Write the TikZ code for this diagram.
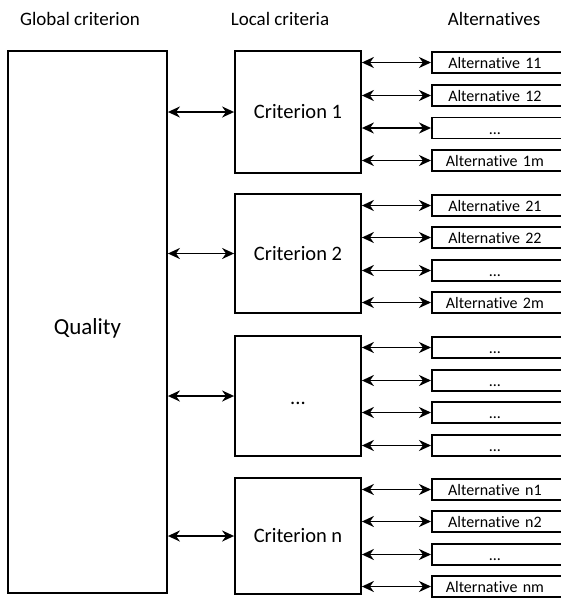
\documentclass[tikz,border=0pt]{standalone}
\usepackage{fontspec}
\setmainfont{Carlito}[Ligatures=CommonOff]
\usetikzlibrary{arrows.meta,positioning}
\definecolor{ink}{HTML}{000000}

\newcommand{\altlabel}[1]{\makebox[126pt]{\smash{\raisebox{-6pt}{#1}}}}

\begin{document}
\begin{tikzpicture}[x=1pt,y=-1pt,>=Stealth,
  bigbox/.style={draw=ink,line width=1.8pt,inner sep=0pt,font=\fontsize{20.5}{24}\selectfont},
  altbox/.style={draw=ink,line width=1.8pt,anchor=west,inner sep=0pt,minimum height=21pt,
    text width=150pt,align=left,font=\fontsize{16}{19}\selectfont},
  biarrow/.style={{Stealth[length=12pt,width=11pt]}-{Stealth[length=12pt,width=11pt]},line width=1.8pt,ink},
  head/.style={font=\fontsize{19}{22}\selectfont,text=ink}]
\useasboundingbox (0,0) rectangle (561,600);
% column heads
\node[head] (hglobal) at (80,19) {Global criterion};
\node[head] (hlocal) at (280,19) {Local criteria};
\node[head] (halt) at (494,19) {Alternatives};
% global criterion
\node[bigbox,minimum width=159pt,minimum height=542pt,font=\fontsize{23}{27}\selectfont] (quality) at (87.5,322) {\smash{\raisebox{-12pt}{Quality}}};
% local criteria
\node[bigbox,minimum width=126pt,minimum height=122pt] (c1) at (298,112) {Criterion 1};
\node[bigbox,minimum width=126pt,minimum height=119pt] (c2) at (298,253.5) {Criterion 2};
\node[bigbox,minimum width=126pt,minimum height=120pt] (c3) at (298,396) {\smash{\raisebox{-8pt}{...}}};
\node[bigbox,minimum width=126pt,minimum height=116pt] (cn) at (298,536) {Criterion n};
\draw[biarrow] (c1.west) -- (c1.west -| quality.east);
\draw[biarrow] (c2.west) -- (c2.west -| quality.east);
\draw[biarrow] (c3.west) -- (c3.west -| quality.east);
\draw[biarrow] (cn.west) -- (cn.west -| quality.east);
% alternatives of criterion 1
\node[altbox] (a11) at (431,62.5) {\altlabel{Alternative 11}};
\node[altbox] (a12) at (431,95.5) {\altlabel{Alternative 12}};
\node[altbox] (a13) at (431,128) {\altlabel{...}};
\node[altbox] (a1m) at (431,160.5) {\altlabel{Alternative 1m}};
% alternatives of criterion 2
\node[altbox] (a21) at (431,205.5) {\altlabel{Alternative 21}};
\node[altbox] (a22) at (431,237.5) {\altlabel{Alternative 22}};
\node[altbox] (a23) at (431,270.5) {\altlabel{...}};
\node[altbox] (a2m) at (431,302.5) {\altlabel{Alternative 2m}};
% alternatives of the middle criterion
\node[altbox] (a31) at (431,347.5) {\altlabel{...}};
\node[altbox] (a32) at (431,380.5) {\altlabel{...}};
\node[altbox] (a33) at (431,412.5) {\altlabel{...}};
\node[altbox] (a3m) at (431,445.5) {\altlabel{...}};
% alternatives of criterion n
\node[altbox] (an1) at (431,489.5) {\altlabel{Alternative n1}};
\node[altbox] (an2) at (431,521.5) {\altlabel{Alternative n2}};
\node[altbox] (an3) at (431,554.5) {\altlabel{...}};
\node[altbox] (anm) at (431,586.5) {\altlabel{Alternative nm}};
\draw[biarrow] (a11.west) -- (a11.west -| c1.east);
\draw[biarrow] (a12.west) -- (a12.west -| c1.east);
\draw[biarrow] (a13.west) -- (a13.west -| c1.east);
\draw[biarrow] (a1m.west) -- (a1m.west -| c1.east);
\draw[biarrow] (a21.west) -- (a21.west -| c2.east);
\draw[biarrow] (a22.west) -- (a22.west -| c2.east);
\draw[biarrow] (a23.west) -- (a23.west -| c2.east);
\draw[biarrow] (a2m.west) -- (a2m.west -| c2.east);
\draw[biarrow] (a31.west) -- (a31.west -| c3.east);
\draw[biarrow] (a32.west) -- (a32.west -| c3.east);
\draw[biarrow] (a33.west) -- (a33.west -| c3.east);
\draw[biarrow] (a3m.west) -- (a3m.west -| c3.east);
\draw[biarrow] (an1.west) -- (an1.west -| cn.east);
\draw[biarrow] (an2.west) -- (an2.west -| cn.east);
\draw[biarrow] (an3.west) -- (an3.west -| cn.east);
\draw[biarrow] (anm.west) -- (anm.west -| cn.east);
\end{tikzpicture}
\end{document}
